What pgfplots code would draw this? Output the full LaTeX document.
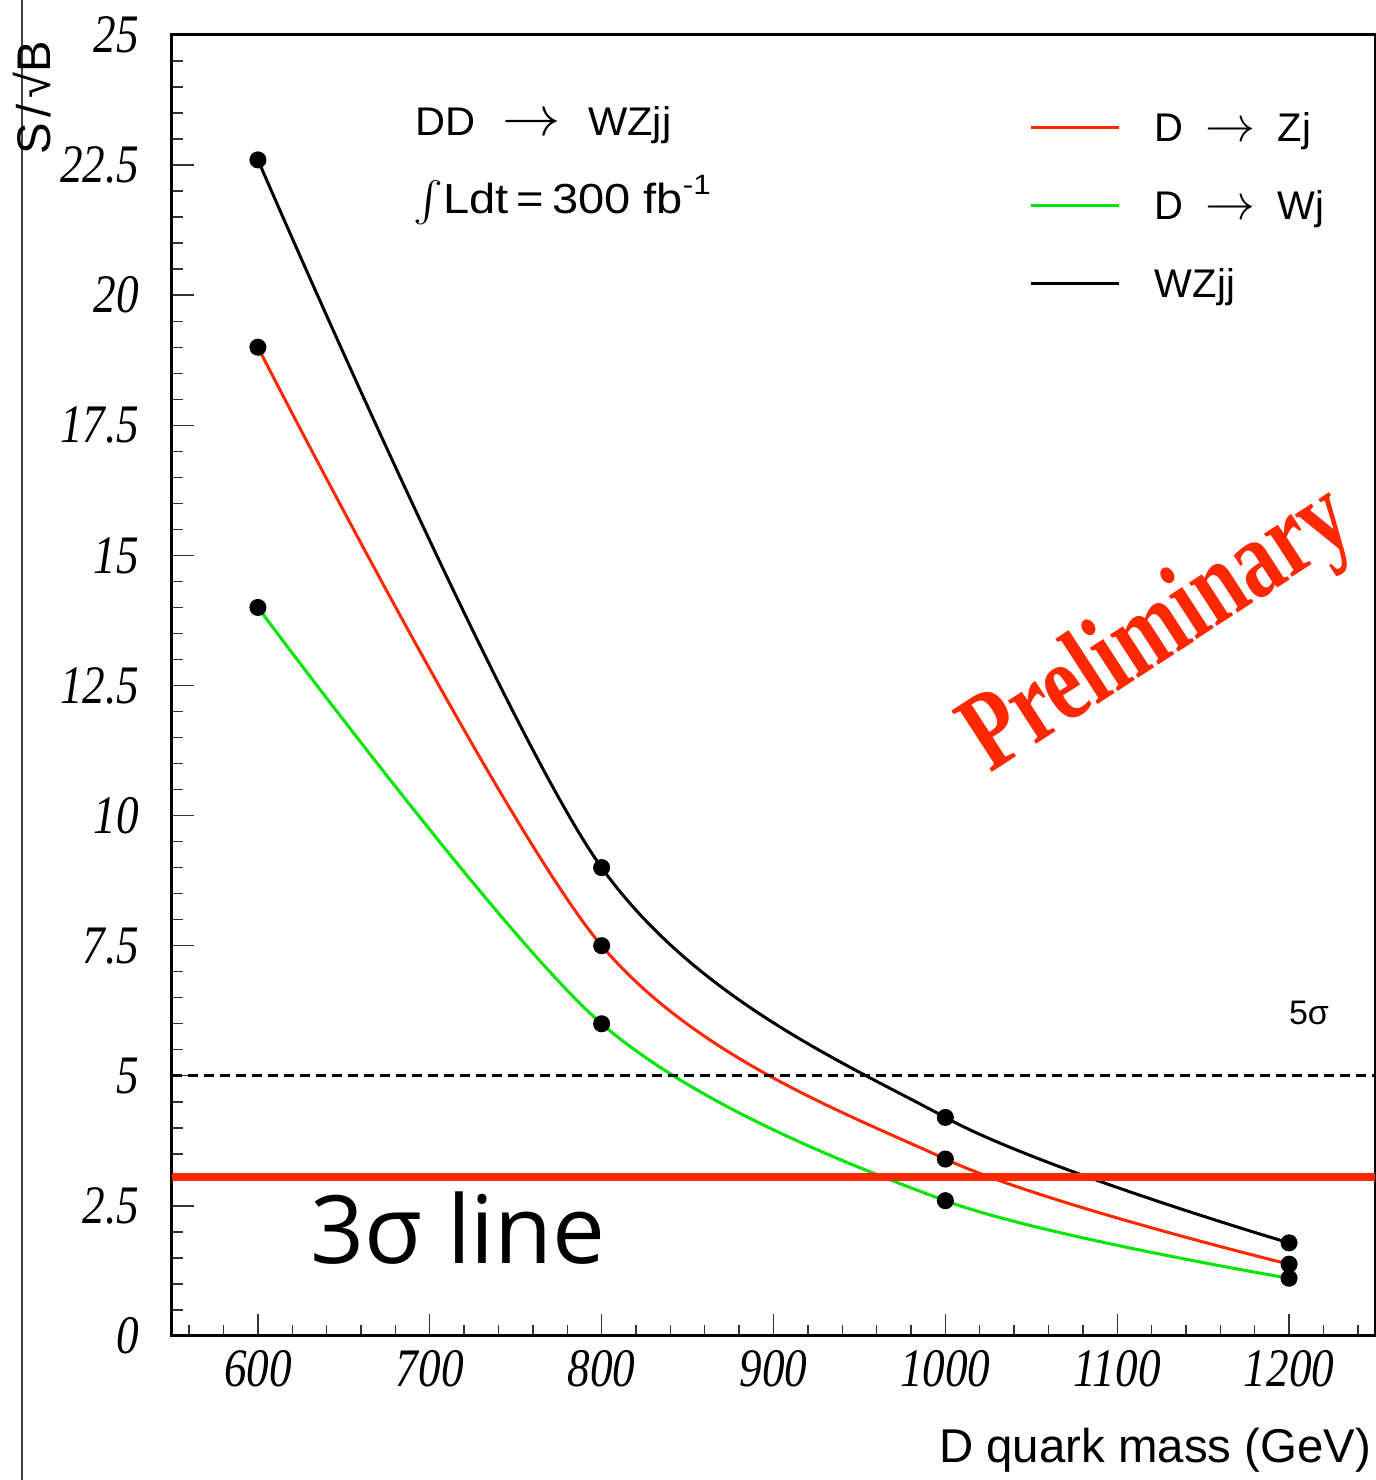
\documentclass[border=0pt]{standalone}
\usepackage{pgfplots}
\pgfplotsset{compat=1.18}
\usepackage{fontspec}
\usepackage{graphicx}
\setmainfont{Liberation Sans}
\newfontfamily\tickfont{Liberation Serif}
\newfontfamily\opensans{Open Sans}
\definecolor{rred}{RGB}{255,40,0}
\definecolor{rgreen}{RGB}{0,230,0}
\newcommand{\tl}[1]{\scalebox{1}[1.2]{\tickfont\itshape\fontsize{11.3}{11}\selectfont #1}}
\newcommand{\arr}[1]{\scalebox{#1}{$\rightarrow$}}
\begin{document}
\begin{tikzpicture}[x=1pt,y=1pt]
\useasboundingbox (-43,-36) rectangle (301,334);
\draw[black!75, line width=0.35pt] (-37.5,-36) -- (-37.5,334);
\begin{axis}[
  at={(0,0)}, anchor=south west,
  width=300.75pt, height=325.25pt, scale only axis,
  xmin=550, xmax=1250, ymin=0, ymax=25,
  xtick={600,700,...,1200},
  xticklabels={\tl{600},\tl{700},\tl{800},\tl{900},\tl{1000},\tl{1100},\tl{1200}},
  ytick={0,2.5,5,7.5,10,12.5,15,17.5,20,22.5,25},
  yticklabels={\tl{0},\tl{2.5},\tl{5},\tl{7.5},\tl{10},\tl{12.5},\tl{15},\tl{17.5},\tl{20},\tl{22.5},\tl{25}},
  minor xtick={560,580,...,1240},
  minor ytick={0.5,1,...,24.5},
  tick align=inside, xtick pos=left, ytick pos=left,
  major tick length=5.5pt, minor tick length=2.75pt,
  every tick/.style={black!80, line width=0.35pt},
  axis line style={line width=0.75pt},
  yticklabel style={anchor=east, inner sep=0pt, xshift=-8pt},
  xticklabel style={anchor=north, inner sep=0pt, yshift=-3.5pt},
  clip=false,
  legend cell align=left,
  legend image code/.code={\draw[#1, line width=0.75pt, mark=none] (0pt,0pt) -- (22pt,0pt); \path (30.5pt,0pt);},
  legend style={draw=none, fill=none, inner sep=0pt, outer sep=0pt, row sep=12.5pt,
    font=\fontsize{10}{12}\selectfont, nodes={inner sep=0pt, text height=7pt, text depth=0pt},
    at={(0.7132,0.940)}, anchor=north west},
]
\addplot[rred, line width=0.75pt, smooth, mark=*, mark size=1.75pt, mark options={black, fill=black}]
  coordinates {(600,19.0) (800,7.5) (1000,3.4) (1200,1.38)};
\addlegendentry{D\hspace{5.5pt}\arr{1.25}\hspace{5.5pt}Zj}
\addplot[rgreen, line width=0.75pt, smooth, mark=*, mark size=1.75pt, mark options={black, fill=black}]
  coordinates {(600,14.0) (800,6.0) (1000,2.6) (1200,1.11)};
\addlegendentry{D\hspace{5.5pt}\arr{1.25}\hspace{5.5pt}Wj}
\addplot[black, line width=0.75pt, smooth, mark=*, mark size=1.75pt, mark options={black, fill=black}]
  coordinates {(600,22.6) (800,9.0) (1000,4.2) (1200,1.79)};
\addlegendentry{WZjj}
\addplot[black, line width=0.7pt, dash pattern=on 2.5pt off 1.5pt, forget plot]
  coordinates {(550,5) (1250,5)};
\addplot[rred, line width=2pt, forget plot]
  coordinates {(550,3.06) (1250,3.06)};
\end{axis}
% annotations (tikz coords: 0.25pt per reference pixel, origin at axis lower-left)
\node[anchor=west, inner sep=0pt, font=\fontsize{10}{12}\selectfont] at (60.75,302.75)
  {\scalebox{1.04}[1]{DD\hspace{6.5pt}\arr{1.4}\hspace{6.5pt}WZjj}};
\node[anchor=west, inner sep=0pt, font=\fontsize{10.5}{12}\selectfont] at (60.25,284)
  {\scalebox{1.12}[1]{$\int$Ldt\,=\,300 fb\raisebox{0.9ex}{\fontsize{7}{7}\selectfont -1}}};
\node[anchor=west, inner sep=0pt, font=\opensans\fontsize{23.6}{24}\selectfont] at (34.5,27)
  {3σ line};
\node[inner sep=0pt, font=\fontsize{8.5}{9}\selectfont] at (284.25,80.75) {5σ};
\node[rotate=33, inner sep=0pt, text=rred] at (247,176)
  {\scalebox{0.76}[1]{\fontspec{Liberation Serif}\bfseries\fontsize{28}{28}\selectfont Preliminary}};
\node[anchor=east, inner sep=0pt, font=\fontsize{11.85}{12}\selectfont] at (300,-28.5)
  {D quark mass (GeV)};
\node[rotate=90, anchor=east, inner sep=0pt, font=\fontsize{11.8}{12}\selectfont] at (-35,324)
  {S\kern1.5pt/\kern1.5pt√B};
\end{tikzpicture}
\end{document}
